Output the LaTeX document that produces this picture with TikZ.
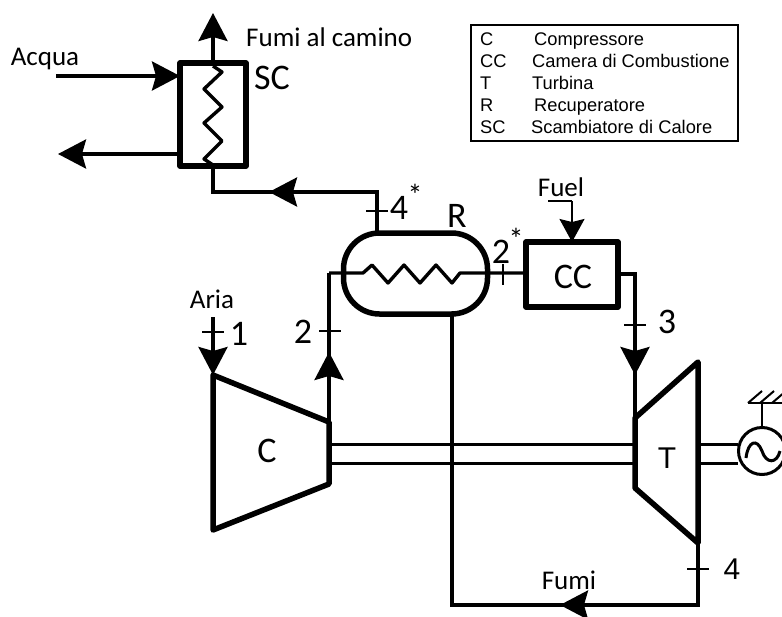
\documentclass[tikz,border=0pt]{standalone}
\usepackage{fontspec}
\setmainfont{Carlito}
\newfontfamily\legfont{Liberation Sans}
\usetikzlibrary{%
  arrows.meta,%
  calc,%
  positioning% wg. " of "
}

\tikzset{
  pipe/.style={line width=3.4pt},
  flow/.style={pipe,-{Stealth[length=28pt,width=29pt,inset=4pt]}},
  body/.style={draw,line width=5.5pt,line join=round},
  lbl/.style={inner sep=0pt,anchor=base,font=\fontsize{27}{27}\selectfont},
  big/.style={inner sep=0pt,anchor=base,font=\fontsize{36}{36}\selectfont},
  bigar/.style={inner sep=0pt,anchor=base,font=\legfont\fontsize{30}{30}\selectfont},
  leg/.style={inner sep=0pt,anchor=base west,font=\legfont\fontsize{18.3}{18.3}\selectfont},
}

\begin{document}
\begin{tikzpicture}[x=1pt,y=-1pt,line cap=butt,
  >=Stealth,
]
\useasboundingbox (0,0) rectangle (782,616);

% components
\node[body,minimum width=66pt,minimum height=103pt,outer sep=0pt] (sc) at (213,114.5) {};
\node[body,minimum width=92pt,minimum height=65pt,outer sep=0pt] (cc) at (572,274.5) {};
\node[body,rounded corners=36pt,minimum width=144pt,minimum height=81pt,outer sep=0pt] (rec) at (415.5,273.5) {};

\coordinate (c1) at (213,375);
\coordinate (c2) at (329,422);
\coordinate (c3) at (329,484);
\coordinate (c4) at (213,530);
\draw[body] (c1) -- (c2) -- (c3) -- (c4) -- cycle;
\coordinate (t1) at (635,418);
\coordinate (t2) at (698,362);
\coordinate (t3) at (698,543);
\coordinate (t4) at (635,488);
\draw[body] (t1) -- (t2) -- (t3) -- (t4) -- cycle;

\node[draw,circle,line width=3pt,minimum size=47pt,inner sep=0pt,outer sep=0pt] (gen) at (762,451) {};
\draw[line width=3pt] (746,458) .. controls (748,441) and (757,438) .. (gen.center)
  .. controls (766,464) and (777,464) .. (780,451);

% coils
\coordinate (sa) at (213,66);
\draw[pipe,line join=round] (sa) -- (222,72) -- (204,89) -- (222,107) -- (204,123) -- (222,141) -- (204,159) -- (213,165);
\coordinate (ra) at (329,273);
\coordinate (rb) at (460,273);
\draw[pipe,line join=round] (ra) -- (363,273) -- (372,265) -- (388,283) -- (404,265) -- (420,283) -- (436,265) -- (452,283) -- (rb) -- (cc.west |- rb);

% water and exhaust
\coordinate (tops) at (213,13);
\draw[flow] (sc.north) -- (tops);
\coordinate (wi) at (56,76);
\coordinate (wo) at (58,154);
\draw[flow] (wi) -- (wi -| sc.west);
\draw[flow] (wo -| sc.west) -- (wo);

\coordinate (bend) at (213,192);
\coordinate (rtop) at (377,192);
\coordinate (tip) at (269,192);
\draw[pipe] (sc.south) -- (bend) -- (rtop) -- (rtop |- rec.north);
\draw[flow] (rtop) -- (tip);

% air
\coordinate (ain) at (213,317);
\draw[flow] (ain) -- (c1);
\coordinate (cup) at (329,352);
\draw[pipe] (c2) -- (ra);
\draw[flow] (c2) -- (cup);

% fuel and hot gas
\coordinate (fa) at (548,201);
\coordinate (fb) at (572,201);
\draw[line width=1.5pt] (fa) -- (fb);
\draw[line width=1.5pt,-{Stealth[length=23pt,width=25pt,inset=3pt]}] (fb) -- (cc.north);

\coordinate (ca) at (635,274);
\coordinate (cb) at (635,375);
\draw[pipe] (cc.east |- ca) -- (ca) -- (t1);
\draw[flow] (ca) -- (cb);

% fumi
\coordinate (rc) at (452,314);
\coordinate (ra2) at (452,605);
\coordinate (rb2) at (698,605);
\coordinate (fumi) at (560,605);
\draw[pipe] (rc) -- (ra2) -- (rb2) -- (t3);
\draw[flow] (rb2) -- (fumi);

% shafts
\foreach \y in {444,463} {
  \draw[line width=3pt] (329,\y) -- (635,\y);
  \draw[line width=3pt] (698,\y) -- (738,\y);
}

% ground
\coordinate (gnd) at (762,403);
\draw[line width=2pt] (gen.north) -- (gnd);
\draw[line width=2pt] (748,403) -- (782,403);
\foreach \x in {748,760,772} {
  \draw[line width=2pt] (\x,403) -- (\x+14,391);
}

% ticks
\foreach \x/\y in {213/332,330/331,377/211,635/325,698/569} {
  \draw[line width=1.2pt] (\x-11,\y) -- (\x+11,\y);
}
\draw[line width=1.2pt] (503,264) -- (503,285);

% labels
\node[lbl] (lacqua) at (45,65) {Acqua};
\node[lbl,anchor=base west] (lcamino) at (246,46) {Fumi al camino};
\node[lbl] (laria) at (212,308) {Aria};
\node[lbl] (lfuel) at (561,196) {Fuel};
\node[lbl] (lfumi) at (569,589) {Fumi};
\node[big] (lsc) at (272,89) {SC};
\node[big] (lr) at (457,227) {R};
\node[big] (lcc) at (573,288) {CC};
\node[big] (lc) at (267,462) {C};
\node[bigar] (lt) at (667,468) {T};
\node[big] (l1) at (239,345) {1};
\node[big] (l2) at (303,343) {2};
\node[big] (l3) at (667,333) {3};
\node[bigar] (l4) at (732,579) {4};
\node[big] (l4s) at (399,219) {4};
\node[big] (l2s) at (501,263) {2};
\node[big,font=\fontsize{30}{30}\selectfont] (s4) at (415,205) {*};
\node[big,font=\fontsize{30}{30}\selectfont] (s2) at (516,249) {*};

% legend
\node[draw,line width=1.2pt,minimum width=267pt,minimum height=116pt,outer sep=0pt] (legend) at (604.5,83) {};
\node[leg] (la1) at (480,45) {C};
\node[leg] (lb1) at (534,45) {Compressore};
\node[leg] (la2) at (480,67) {CC};
\node[leg] (lb2) at (532,67) {Camera di Combustione};
\node[leg] (la3) at (480,89) {T};
\node[leg] (lb3) at (532,89) {Turbina};
\node[leg] (la4) at (480,111) {R};
\node[leg] (lb4) at (534,111) {Recuperatore};
\node[leg] (la5) at (480,133) {SC};
\node[leg] (lb5) at (531,133) {Scambiatore di Calore};

\end{tikzpicture}
\end{document}
